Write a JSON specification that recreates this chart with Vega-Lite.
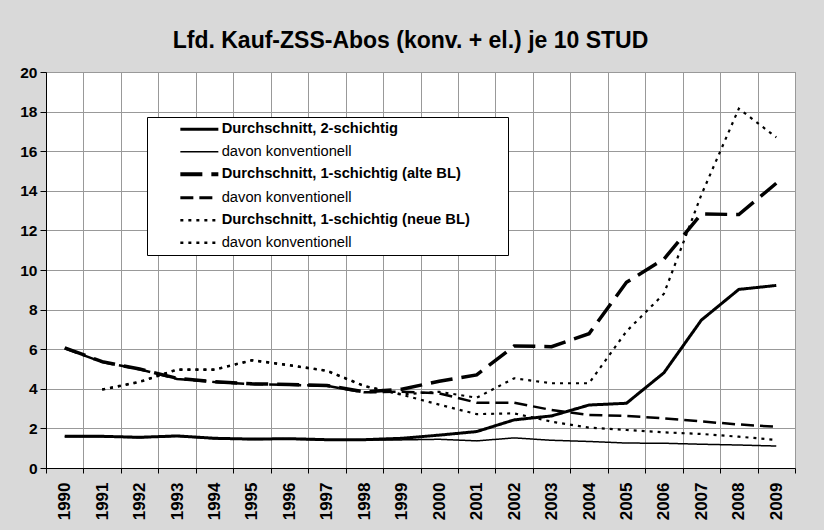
{
  "$schema": "https://vega.github.io/schema/vega-lite/v6.json",
  "width": 749,
  "height": 396,
  "autosize": {"type": "none"},
  "padding": {"left": 46, "top": 72, "right": 29, "bottom": 62},
  "background": "#d9d9d9",
  "config": {
    "font": "Liberation Sans",
    "view": {"fill": "white", "stroke": "#808080", "strokeWidth": 1}
  },
  "title": {
    "text": "Lfd. Kauf-ZSS-Abos (konv. + el.) je 10 STUD",
    "font": "Liberation Sans",
    "fontSize": 23,
    "fontWeight": "bold",
    "color": "black",
    "anchor": "middle",
    "dx": -10,
    "offset": 12
  },
  "data": {
    "values": [
      {"year": "1990", "s": "A", "v": 1.6}, {"year": "1991", "s": "A", "v": 1.6}, {"year": "1992", "s": "A", "v": 1.55}, {"year": "1993", "s": "A", "v": 1.62}, {"year": "1994", "s": "A", "v": 1.5}, {"year": "1995", "s": "A", "v": 1.46}, {"year": "1996", "s": "A", "v": 1.48}, {"year": "1997", "s": "A", "v": 1.43}, {"year": "1998", "s": "A", "v": 1.43}, {"year": "1999", "s": "A", "v": 1.5}, {"year": "2000", "s": "A", "v": 1.66}, {"year": "2001", "s": "A", "v": 1.84}, {"year": "2002", "s": "A", "v": 2.43}, {"year": "2003", "s": "A", "v": 2.63}, {"year": "2004", "s": "A", "v": 3.18}, {"year": "2005", "s": "A", "v": 3.27}, {"year": "2006", "s": "A", "v": 4.81}, {"year": "2007", "s": "A", "v": 7.47}, {"year": "2008", "s": "A", "v": 9.02}, {"year": "2009", "s": "A", "v": 9.22},
      {"year": "1990", "s": "B", "v": 1.58}, {"year": "1991", "s": "B", "v": 1.58}, {"year": "1992", "s": "B", "v": 1.53}, {"year": "1993", "s": "B", "v": 1.6}, {"year": "1994", "s": "B", "v": 1.48}, {"year": "1995", "s": "B", "v": 1.44}, {"year": "1996", "s": "B", "v": 1.46}, {"year": "1997", "s": "B", "v": 1.41}, {"year": "1998", "s": "B", "v": 1.41}, {"year": "1999", "s": "B", "v": 1.42}, {"year": "2000", "s": "B", "v": 1.45}, {"year": "2001", "s": "B", "v": 1.37}, {"year": "2002", "s": "B", "v": 1.52}, {"year": "2003", "s": "B", "v": 1.4}, {"year": "2004", "s": "B", "v": 1.34}, {"year": "2005", "s": "B", "v": 1.26}, {"year": "2006", "s": "B", "v": 1.25}, {"year": "2007", "s": "B", "v": 1.2}, {"year": "2008", "s": "B", "v": 1.16}, {"year": "2009", "s": "B", "v": 1.11},
      {"year": "1990", "s": "C", "v": 6.07}, {"year": "1991", "s": "C", "v": 5.37}, {"year": "1992", "s": "C", "v": 5.0}, {"year": "1993", "s": "C", "v": 4.53}, {"year": "1994", "s": "C", "v": 4.36}, {"year": "1995", "s": "C", "v": 4.25}, {"year": "1996", "s": "C", "v": 4.22}, {"year": "1997", "s": "C", "v": 4.17}, {"year": "1998", "s": "C", "v": 3.85}, {"year": "1999", "s": "C", "v": 3.98}, {"year": "2000", "s": "C", "v": 4.38}, {"year": "2001", "s": "C", "v": 4.7}, {"year": "2002", "s": "C", "v": 6.16}, {"year": "2003", "s": "C", "v": 6.13}, {"year": "2004", "s": "C", "v": 6.78}, {"year": "2005", "s": "C", "v": 9.38}, {"year": "2006", "s": "C", "v": 10.55}, {"year": "2007", "s": "C", "v": 12.83}, {"year": "2008", "s": "C", "v": 12.8}, {"year": "2009", "s": "C", "v": 14.38},
      {"year": "1990", "s": "D", "v": 6.05}, {"year": "1991", "s": "D", "v": 5.35}, {"year": "1992", "s": "D", "v": 4.98}, {"year": "1993", "s": "D", "v": 4.5}, {"year": "1994", "s": "D", "v": 4.34}, {"year": "1995", "s": "D", "v": 4.24}, {"year": "1996", "s": "D", "v": 4.2}, {"year": "1997", "s": "D", "v": 4.15}, {"year": "1998", "s": "D", "v": 3.82}, {"year": "1999", "s": "D", "v": 3.85}, {"year": "2000", "s": "D", "v": 3.77}, {"year": "2001", "s": "D", "v": 3.3}, {"year": "2002", "s": "D", "v": 3.3}, {"year": "2003", "s": "D", "v": 2.93}, {"year": "2004", "s": "D", "v": 2.68}, {"year": "2005", "s": "D", "v": 2.63}, {"year": "2006", "s": "D", "v": 2.51}, {"year": "2007", "s": "D", "v": 2.35}, {"year": "2008", "s": "D", "v": 2.2}, {"year": "2009", "s": "D", "v": 2.08},
      {"year": "1991", "s": "E", "v": 3.97}, {"year": "1992", "s": "E", "v": 4.36}, {"year": "1993", "s": "E", "v": 4.98}, {"year": "1994", "s": "E", "v": 4.98}, {"year": "1995", "s": "E", "v": 5.45}, {"year": "1996", "s": "E", "v": 5.2}, {"year": "1997", "s": "E", "v": 4.92}, {"year": "1998", "s": "E", "v": 4.15}, {"year": "1999", "s": "E", "v": 3.72}, {"year": "2000", "s": "E", "v": 3.85}, {"year": "2001", "s": "E", "v": 3.55}, {"year": "2002", "s": "E", "v": 4.53}, {"year": "2003", "s": "E", "v": 4.28}, {"year": "2004", "s": "E", "v": 4.28}, {"year": "2005", "s": "E", "v": 6.9}, {"year": "2006", "s": "E", "v": 8.8}, {"year": "2007", "s": "E", "v": 13.8}, {"year": "2008", "s": "E", "v": 18.15}, {"year": "2009", "s": "E", "v": 16.7},
      {"year": "1991", "s": "F", "v": 3.95}, {"year": "1992", "s": "F", "v": 4.34}, {"year": "1993", "s": "F", "v": 4.96}, {"year": "1994", "s": "F", "v": 4.96}, {"year": "1995", "s": "F", "v": 5.43}, {"year": "1996", "s": "F", "v": 5.18}, {"year": "1997", "s": "F", "v": 4.9}, {"year": "1998", "s": "F", "v": 4.13}, {"year": "1999", "s": "F", "v": 3.7}, {"year": "2000", "s": "F", "v": 3.2}, {"year": "2001", "s": "F", "v": 2.72}, {"year": "2002", "s": "F", "v": 2.76}, {"year": "2003", "s": "F", "v": 2.34}, {"year": "2004", "s": "F", "v": 2.04}, {"year": "2005", "s": "F", "v": 1.92}, {"year": "2006", "s": "F", "v": 1.8}, {"year": "2007", "s": "F", "v": 1.72}, {"year": "2008", "s": "F", "v": 1.58}, {"year": "2009", "s": "F", "v": 1.42}
    ]
  },
  "mark": {"type": "line", "stroke": "black", "strokeCap": "butt"},
  "encoding": {
    "x": {
      "field": "year",
      "type": "ordinal",
      "scale": {"type": "band", "paddingInner": 0, "paddingOuter": 0},
      "axis": {
        "title": null,
        "labelAngle": -90,
        "labelFont": "Liberation Sans",
        "labelFontSize": 17,
        "labelFontWeight": "bold",
        "labelColor": "black",
        "labelPadding": 9,
        "tickBand": "extent",
        "tickSize": 5,
        "tickColor": "black",
        "domainColor": "black",
        "grid": true,
        "gridColor": "#999999",
        "gridOpacity": 1
      }
    },
    "y": {
      "field": "v",
      "type": "quantitative",
      "scale": {"domain": [0, 20], "nice": false},
      "axis": {
        "title": null,
        "values": [0, 2, 4, 6, 8, 10, 12, 14, 16, 18, 20],
        "labelFont": "Liberation Sans",
        "labelFontSize": 15.5,
        "labelFontWeight": "bold",
        "labelColor": "black",
        "labelPadding": 3,
        "tickSize": 6,
        "tickColor": "black",
        "domainColor": "black",
        "grid": true,
        "gridColor": "#999999",
        "gridOpacity": 1
      }
    },
    "strokeDash": {
      "field": "s",
      "type": "nominal",
      "scale": {
        "domain": ["A", "B", "C", "D", "E", "F"],
        "range": [[1, 0], [1, 0], [22, 9], [13, 6], [3, 5], [3, 5]]
      },
      "legend": {
        "title": null,
        "orient": "none",
        "legendX": 101,
        "legendY": 45,
        "fillColor": "white",
        "strokeColor": "black",
        "padding": 5,
        "symbolType": "stroke",
        "symbolSize": 1444,
        "symbolOffset": 40,
        "symbolStrokeColor": "black",
        "labelFont": "Liberation Sans",
        "labelFontSize": 14.7,
        "labelColor": "black",
        "labelOffset": 15,
        "labelLimit": 500,
        "rowPadding": 6.5,
        "labelExpr": "datum.value == 'A' ? 'Durchschnitt, 2-schichtig' : datum.value == 'C' ? 'Durchschnitt, 1-schichtig (alte BL)' : datum.value == 'E' ? 'Durchschnitt, 1-schichtig (neue BL)\u2800\u2800\u2800' : 'davon konventionell'",
        "encode": {
          "labels": {"update": {"fontWeight": {"signal": "datum.value == 'A' || datum.value == 'C' || datum.value == 'E' ? 'bold' : 'normal'"}}},
          "symbols": {"update": {"strokeWidth": {"signal": "datum.value == 'A' ? 3 : datum.value == 'C' ? 4 : datum.value == 'D' ? 3 : datum.value == 'B' ? 1.5 : 2.5"}}}
        }
      }
    },
    "strokeWidth": {
      "condition": [
        {"test": "datum.s == 'A'", "value": 3},
        {"test": "datum.s == 'B'", "value": 1.5},
        {"test": "datum.s == 'C'", "value": 3.5},
        {"test": "datum.s == 'D'", "value": 2.5}
      ],
      "value": 2.2
    }
  }
}
